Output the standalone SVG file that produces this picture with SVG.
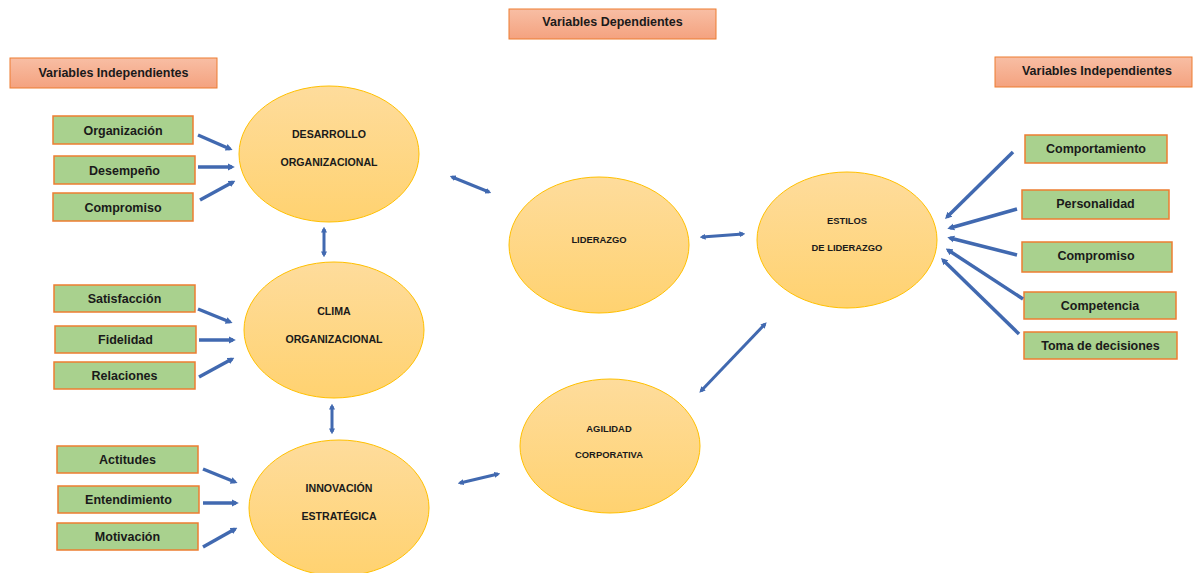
<svg xmlns="http://www.w3.org/2000/svg" width="1194" height="573" viewBox="0 0 1194 573">
<style>
.hdr{fill:url(#hg);stroke:#ED7D31;stroke-width:1}
.box{fill:#A9D18E;stroke:#ED7D31;stroke-width:1.5}
.ell{fill:url(#eg);stroke:#FFC000;stroke-width:1}
.t{font-family:"Liberation Sans",Arial,sans-serif;font-weight:bold;fill:#1a1a1a;text-anchor:middle}
.bt{font-size:12.5px}
.et{font-size:10.6px}
.es{font-size:9.4px}
.c{fill:none;stroke:#4169B0;stroke-width:3.5}
.cs{marker-end:url(#ah)}
.cd{stroke-width:3;marker-end:url(#ah);marker-start:url(#ah)}
</style>
<defs>
<linearGradient id="hg" x1="0" y1="0" x2="0" y2="1"><stop offset="0" stop-color="#F8BEA4"/><stop offset="1" stop-color="#F4A27F"/></linearGradient>
<linearGradient id="eg" x1="0" y1="0" x2="0" y2="1"><stop offset="0" stop-color="#FEDC9C"/><stop offset="1" stop-color="#FFD270"/></linearGradient>
<marker id="ah" viewBox="0 0 10 10" refX="6" refY="5" markerUnits="strokeWidth" markerWidth="2" markerHeight="2.2" orient="auto-start-reverse"><path d="M0,0 L10,5 L0,10 z" fill="#4169B0"/></marker>
</defs>
<rect width="1194" height="573" fill="#fff"/>

<g id="hdr-dep"><rect class="hdr" x="509" y="9" width="207" height="30"/><text class="t bt" x="612.5" y="26">Variables Dependientes</text></g>
<g id="hdr-ind-left"><rect class="hdr" x="10" y="58" width="207" height="30"/><text class="t bt" x="113.5" y="76.5">Variables Independientes</text></g>
<g id="hdr-ind-right"><rect class="hdr" x="995" y="57" width="197" height="30"/><text class="t bt" x="1097" y="74.5">Variables Independientes</text></g>

<g id="b-organizacion"><rect class="box" x="53" y="116" width="140" height="28"/><text class="t bt" x="123" y="134.5">Organización</text></g>
<g id="b-desempeno"><rect class="box" x="54" y="156" width="141" height="28"/><text class="t bt" x="124.5" y="174.5">Desempeño</text></g>
<g id="b-compromiso1"><rect class="box" x="53" y="193" width="140" height="28"/><text class="t bt" x="123" y="211.5">Compromiso</text></g>
<g id="b-satisfaccion"><rect class="box" x="54" y="285" width="141" height="27"/><text class="t bt" x="124.5" y="303">Satisfacción</text></g>
<g id="b-fidelidad"><rect class="box" x="55" y="326" width="141" height="27"/><text class="t bt" x="125.5" y="343.5">Fidelidad</text></g>
<g id="b-relaciones"><rect class="box" x="54" y="362" width="141" height="27"/><text class="t bt" x="124.5" y="380">Relaciones</text></g>
<g id="b-actitudes"><rect class="box" x="57" y="446" width="141" height="27"/><text class="t bt" x="127.5" y="463.5">Actitudes</text></g>
<g id="b-entendimiento"><rect class="box" x="58" y="486" width="141" height="27"/><text class="t bt" x="128.5" y="503.5">Entendimiento</text></g>
<g id="b-motivacion"><rect class="box" x="57" y="523" width="141" height="27"/><text class="t bt" x="127.5" y="540.5">Motivación</text></g>

<g id="b-comportamiento"><rect class="box" x="1025" y="135" width="142" height="28"/><text class="t bt" x="1096" y="152.5">Comportamiento</text></g>
<g id="b-personalidad"><rect class="box" x="1022" y="190" width="147" height="29"/><text class="t bt" x="1095.5" y="207.5">Personalidad</text></g>
<g id="b-compromiso2"><rect class="box" x="1022" y="242" width="150" height="30"/><text class="t bt" x="1096" y="259.5">Compromiso</text></g>
<g id="b-competencia"><rect class="box" x="1024" y="292" width="152" height="27"/><text class="t bt" x="1100" y="309.5">Competencia</text></g>
<g id="b-toma"><rect class="box" x="1024" y="332" width="153" height="27"/><text class="t bt" x="1100.5" y="349.5">Toma de decisiones</text></g>

<g id="e-desarrollo"><ellipse class="ell" cx="329" cy="154" rx="90" ry="68"/><text class="t et" x="329" y="138">DESARROLLO</text><text class="t et" x="329" y="166">ORGANIZACIONAL</text></g>
<g id="e-clima"><ellipse class="ell" cx="334" cy="330" rx="90" ry="68"/><text class="t et" x="334" y="315">CLIMA</text><text class="t et" x="334" y="343">ORGANIZACIONAL</text></g>
<g id="e-innovacion"><ellipse class="ell" cx="339" cy="508" rx="90" ry="68"/><text class="t et" x="339" y="492">INNOVACIÓN</text><text class="t et" x="339" y="520">ESTRATÉGICA</text></g>
<g id="e-liderazgo"><ellipse class="ell" cx="599" cy="245" rx="90" ry="68"/><text class="t es" x="599" y="242.5">LIDERAZGO</text></g>
<g id="e-estilos"><ellipse class="ell" cx="847" cy="240" rx="90" ry="68"/><text class="t es" x="847" y="223.5">ESTILOS</text><text class="t es" x="847" y="250.5">DE LIDERAZGO</text></g>
<g id="e-agilidad"><ellipse class="ell" cx="610" cy="446" rx="90" ry="67"/><text class="t es" x="609" y="431.5">AGILIDAD</text><text class="t es" x="609" y="457.5">CORPORATIVA</text></g>

<g id="connectors">
<line class="c cs" x1="198" y1="135" x2="230" y2="149"/>
<line class="c cs" x1="198" y1="167" x2="232" y2="167"/>
<line class="c cs" x1="200" y1="200" x2="233" y2="182"/>
<line class="c cs" x1="198" y1="309" x2="230" y2="322"/>
<line class="c cs" x1="199" y1="340" x2="233" y2="340"/>
<line class="c cs" x1="199" y1="377" x2="232" y2="359"/>
<line class="c cs" x1="203" y1="469" x2="235" y2="482"/>
<line class="c cs" x1="203" y1="503" x2="236" y2="503"/>
<line class="c cs" x1="203" y1="547" x2="235" y2="529"/>

<line class="c cd" x1="324" y1="229" x2="324" y2="255"/>
<line class="c cd" x1="332" y1="406" x2="332" y2="432"/>
<line class="c cd" x1="452" y1="177" x2="489" y2="192"/>
<line class="c cd" x1="702" y1="237" x2="743" y2="234"/>
<line class="c cd" x1="460" y1="483" x2="498" y2="474"/>
<line class="c cd" x1="701" y1="391" x2="765" y2="324"/>

<line class="c cs" x1="1013" y1="152" x2="947" y2="217"/>
<line class="c cs" x1="1017" y1="209" x2="950" y2="228"/>
<line class="c cs" x1="1017" y1="255" x2="950" y2="238"/>
<line class="c cs" x1="1023" y1="299" x2="948" y2="250"/>
<line class="c cs" x1="1019" y1="334" x2="943" y2="260"/>
</g>
</svg>
